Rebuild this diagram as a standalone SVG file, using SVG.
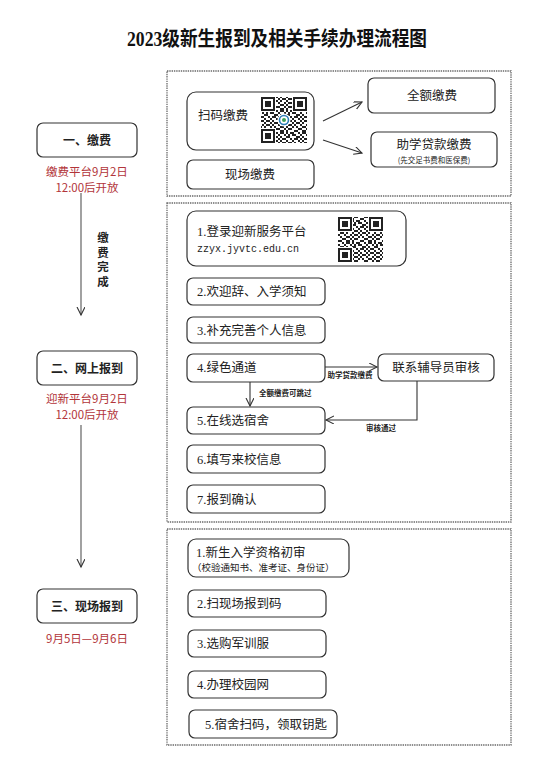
<svg xmlns="http://www.w3.org/2000/svg" width="535" height="772" viewBox="0 0 535 772">
<style>
.sec{fill:none;stroke:#6a6a6a;stroke-width:1.3;stroke-dasharray:1.4 0.9}
.box{fill:#fff;stroke:#333;stroke-width:1.2}
.t{font-family:"Liberation Serif","Noto Sans CJK SC",serif;font-size:12.5px;fill:#222}
.ts{font-family:"Noto Sans CJK SC",sans-serif;font-size:12.5px;fill:#222}
.lb{font-family:"Noto Sans CJK SC",sans-serif;font-size:12px;font-weight:bold;fill:#222;text-anchor:middle}
.red{font-family:"Noto Sans CJK SC",sans-serif;font-size:11.5px;fill:#b2353a;text-anchor:middle}
.sm{font-family:"Noto Sans CJK SC",sans-serif;font-size:7.5px;font-weight:bold;fill:#222}
.ln{fill:none;stroke:#333;stroke-width:1.1}
.lg{fill:none;stroke:#555;stroke-width:1.1}
</style>
<defs>
<marker id="ah" markerWidth="10" markerHeight="10" refX="8" refY="4" orient="auto" markerUnits="userSpaceOnUse">
<path d="M0,0 L8,4 L0,8" fill="none" stroke="#333" stroke-width="1.1"/>
</marker>
<pattern id="qr" width="22" height="22" patternUnits="userSpaceOnUse">
<path fill="#222" d="M0 0h2v2h-2z M4 0h4v2h-4z M12 0h2v2h-2z M16 0h4v2h-4z M2 2h2v2h-2z M6 2h4v2h-4z M14 2h2v2h-2z M20 2h2v2h-2z M0 4h4v2h-4z M10 4h4v2h-4z M16 4h2v2h-2z M4 6h2v2h-2z M8 6h4v2h-4z M14 6h2v2h-2z M18 6h4v2h-4z M0 8h2v2h-2z M6 8h2v2h-2z M12 8h2v2h-2z M16 8h2v2h-2z M2 10h4v2h-4z M8 10h2v2h-2z M14 10h2v2h-2z M18 10h4v2h-4z M0 12h2v2h-2z M6 12h2v2h-2z M10 12h4v2h-4z M16 12h2v2h-2z M2 14h4v2h-4z M8 14h2v2h-2z M14 14h2v2h-2z M20 14h2v2h-2z M0 16h2v2h-2z M6 16h2v2h-2z M10 16h2v2h-2z M16 16h4v2h-4z M2 18h4v2h-4z M12 18h4v2h-4z M20 18h2v2h-2z M0 20h2v2h-2z M8 20h4v2h-4z M16 20h4v2h-4z"/>
</pattern>
<g id="fp">
<rect x="-1" y="-1" width="16" height="16" fill="#fff"/>
<rect x="0" y="0" width="14" height="14" fill="#222"/>
<rect x="2" y="2" width="10" height="10" fill="#fff"/>
<rect x="4" y="4" width="6" height="6" fill="#222"/>
</g>
</defs>

<text x="277" y="46" text-anchor="middle" textLength="300" lengthAdjust="spacingAndGlyphs" style="font-family:'Liberation Serif','Noto Sans CJK SC',serif;font-size:20px;font-weight:bold;fill:#111">2023级新生报到及相关手续办理流程图</text>

<g id="connectors">
<line class="lg" x1="81" y1="193" x2="81" y2="315" marker-end="url(#ah)"/>
<line class="lg" x1="81" y1="425" x2="81" y2="567" marker-end="url(#ah)"/>
<line class="ln" x1="323" y1="121" x2="362" y2="102" marker-end="url(#ah)"/>
<line class="ln" x1="323" y1="140" x2="362" y2="153" marker-end="url(#ah)"/>
<line class="ln" x1="325" y1="367" x2="377" y2="367" marker-end="url(#ah)"/>
<line class="ln" x1="250" y1="382" x2="250" y2="406" marker-end="url(#ah)"/>
<polyline class="ln" points="417,381 417,420 326,420" marker-end="url(#ah)"/>
<text class="sm" x="350" y="378" text-anchor="middle">助学贷款缴费</text>
<text class="sm" x="259" y="396">全额缴费可跳过</text>
<text class="sm" x="381" y="431" text-anchor="middle">审核通过</text>
<text x="103" y="232" writing-mode="tb" style="font-family:'Noto Sans CJK SC',sans-serif;font-size:11.5px;font-weight:bold;fill:#222;letter-spacing:3px">缴费完成</text>
</g>

<g id="step1">
<rect class="box" x="37" y="123" width="100" height="34" rx="6"/>
<text class="lb" x="87" y="144.5">一、缴费</text>
<text class="red" x="87" y="176">缴费平台9月2日</text>
<text class="red" x="87" y="192">12:00后开放</text>
</g>
<g id="step2">
<rect class="box" x="37" y="351" width="100" height="34" rx="6"/>
<text class="lb" x="87" y="372.5">二、网上报到</text>
<text class="red" x="87" y="403">迎新平台9月2日</text>
<text class="red" x="87" y="419">12:00后开放</text>
</g>
<g id="step3">
<rect class="box" x="37" y="589" width="100" height="34" rx="6"/>
<text class="lb" x="87" y="610.5">三、现场报到</text>
<text class="red" x="87" y="643">9月5日—9月6日</text>
</g>

<g id="section1">
<rect class="sec" x="167" y="71" width="344" height="125"/>
<g id="scan-pay">
<rect class="box" x="187" y="92" width="127" height="58" rx="9"/>
<text class="ts" x="223" y="120" text-anchor="middle">扫码缴费</text>
<rect x="261" y="97" width="46" height="46" fill="url(#qr)"/>
<use href="#fp" x="261" y="97"/><use href="#fp" x="293" y="97"/><use href="#fp" x="261" y="129"/>
<circle cx="284" cy="120" r="6.5" fill="#fff"/>
<circle cx="284" cy="120" r="4.5" fill="none" stroke="#2f7fb8" stroke-width="1.6"/>
<circle cx="284" cy="120" r="2" fill="#3fa35a"/>
</g>
<g id="onsite-pay">
<rect class="box" x="187" y="160" width="127" height="29" rx="6"/>
<text class="ts" x="250" y="179" text-anchor="middle">现场缴费</text>
</g>
<g id="full-pay">
<rect class="box" x="368" y="78" width="127" height="35" rx="6"/>
<text class="ts" x="432" y="100" text-anchor="middle">全额缴费</text>
</g>
<g id="loan-pay">
<rect class="box" x="371" y="132" width="126" height="35" rx="6"/>
<text class="ts" x="434" y="149" text-anchor="middle">助学贷款缴费</text>
<text x="434" y="162.5" text-anchor="middle" style="font-family:'Noto Sans CJK SC',sans-serif;font-size:7.5px;fill:#222">(先交足书费和医保费)</text>
</g>
</g>

<g id="section2">
<rect class="sec" x="167" y="203" width="344" height="319"/>
<g id="s2-1">
<rect class="box" x="187" y="211" width="219" height="55" rx="9"/>
<text class="t" x="197" y="236">1.登录迎新服务平台</text>
<text x="197" y="252" style="font-family:'Liberation Mono',monospace;font-size:10px;fill:#222">zzyx.jyvtc.edu.cn</text>
<rect x="338" y="217" width="45" height="45" fill="url(#qr)"/>
<use href="#fp" x="338" y="217"/><use href="#fp" x="369" y="217"/><use href="#fp" x="338" y="248"/>
</g>
<g id="s2-2"><rect class="box" x="187" y="278" width="138" height="27" rx="6"/><text class="t" x="197" y="296">2.欢迎辞、入学须知</text></g>
<g id="s2-3"><rect class="box" x="187" y="317" width="138" height="26" rx="6"/><text class="t" x="197" y="334.5">3.补充完善个人信息</text></g>
<g id="s2-4"><rect class="box" x="187" y="354" width="138" height="28" rx="6"/><text class="t" x="197" y="372">4.绿色通道</text></g>
<g id="s2-review"><rect class="box" x="378" y="354" width="116" height="27" rx="6"/><text class="ts" x="436" y="372" text-anchor="middle">联系辅导员审核</text></g>
<g id="s2-5"><rect class="box" x="187" y="407" width="138" height="27" rx="6"/><text class="t" x="197" y="425">5.在线选宿舍</text></g>
<g id="s2-6"><rect class="box" x="187" y="445" width="138" height="28" rx="6"/><text class="t" x="197" y="463.5">6.填写来校信息</text></g>
<g id="s2-7"><rect class="box" x="187" y="485" width="138" height="28" rx="6"/><text class="t" x="197" y="503.5">7.报到确认</text></g>
</g>

<g id="section3">
<rect class="sec" x="167" y="529" width="344" height="216"/>
<g id="s3-1">
<rect class="box" x="188" y="539" width="161" height="38" rx="8"/>
<text class="t" x="196" y="557">1.新生入学资格初审</text>
<text x="192" y="571" style="font-family:'Noto Sans CJK SC',sans-serif;font-size:9.5px;fill:#222">（校验通知书、准考证、身份证）</text>
</g>
<g id="s3-2"><rect class="box" x="188" y="590" width="138" height="27" rx="6"/><text class="t" x="197" y="608">2.扫现场报到码</text></g>
<g id="s3-3"><rect class="box" x="188" y="630" width="138" height="27" rx="6"/><text class="t" x="197" y="648">3.选购军训服</text></g>
<g id="s3-4"><rect class="box" x="188" y="671" width="138" height="27" rx="6"/><text class="t" x="197" y="689">4.办理校园网</text></g>
<g id="s3-5"><rect class="box" x="189" y="710" width="148" height="28" rx="6"/><text class="t" x="205" y="728.5">5.宿舍扫码，领取钥匙</text></g>
</g>
</svg>
